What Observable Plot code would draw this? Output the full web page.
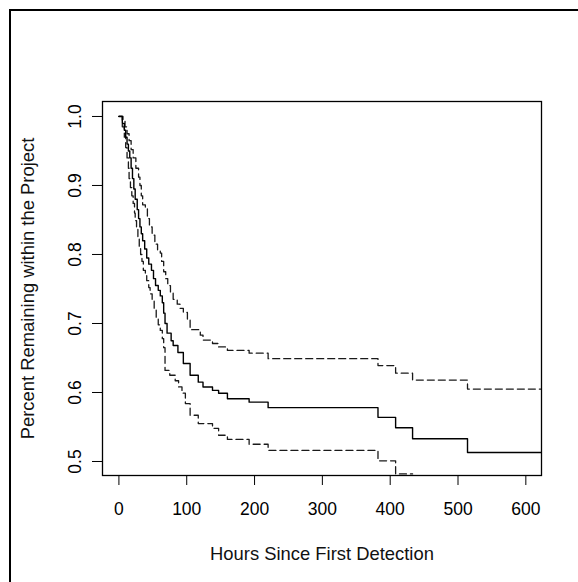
<!DOCTYPE html>
<html><head><meta charset="utf-8">
<script src="https://cdn.jsdelivr.net/npm/d3@7"></script>
<script src="https://cdn.jsdelivr.net/npm/@observablehq/plot@0.6"></script>
<style>
body{margin:0;background:#fff;}
#wrap{position:relative;width:578px;height:582px;overflow:hidden;background:#fff;}
#border{position:absolute;left:9px;top:9px;width:600px;height:600px;border-left:2px solid #000;border-top:2px solid #000;z-index:2;pointer-events:none;}
</style></head><body><div id="wrap"><div id="border"></div></div>
<script>
const xTicks = [0, 100, 200, 300, 400, 500, 600];
const yTicks = [0.5, 0.6, 0.7, 0.8, 0.9, 1.0];
const xLabel = "Hours Since First Detection";
const yLabel = "Percent Remaining within the Project";

const survTime = [0,5,8,10,12,14,16,18,20,22,24,27,29,31,33,35,38,41,44,48,51,54,58,61,64,66,68,71,77,80,87,95,105,117,124,138,147,160,192,220,382,408,433,514,623];
const survProb = [1.0,0.99,0.98,0.97,0.96,0.95,0.94,0.925,0.91,0.895,0.88,0.865,0.852,0.84,0.83,0.82,0.808,0.795,0.786,0.777,0.765,0.755,0.748,0.74,0.73,0.715,0.7,0.686,0.675,0.668,0.658,0.642,0.625,0.615,0.608,0.603,0.599,0.591,0.586,0.578,0.564,0.549,0.533,0.513,0.513];

const upperTime = [0,6,9,12,15,18,21,25,29,31,33,35,39,42,45,49,53,57,61,63,66,69,72,76,80,86,90,95,101,105,120,124,138,147,160,192,220,382,408,433,514,623];
const upperProb = [1.0,0.995,0.985,0.975,0.965,0.952,0.94,0.925,0.912,0.9,0.885,0.872,0.866,0.852,0.84,0.828,0.815,0.806,0.802,0.79,0.775,0.765,0.755,0.745,0.735,0.728,0.722,0.716,0.705,0.691,0.683,0.676,0.671,0.666,0.661,0.657,0.649,0.639,0.628,0.618,0.605,0.605];

const lowerTime = [0,5,8,10,12,14,15,17,19,21,23,24,26,28,30,32,34,36,39,41,44,46,49,52,55,58,61,64,66,68,75,83,88,93,98,105,117,138,147,160,192,220,382,408,433];
const lowerProb = [1.0,0.985,0.97,0.955,0.94,0.925,0.91,0.897,0.885,0.874,0.86,0.849,0.838,0.826,0.81,0.8,0.79,0.777,0.77,0.762,0.752,0.743,0.733,0.72,0.708,0.698,0.69,0.678,0.665,0.632,0.625,0.617,0.608,0.599,0.584,0.567,0.555,0.548,0.538,0.532,0.525,0.516,0.501,0.482,0.482];

const surv = survTime.map((t, i) => ({t, p: survProb[i]}));
const upper = upperTime.map((t, i) => ({t, p: upperProb[i]}));
const lower = lowerTime.map((t, i) => ({t, p: lowerProb[i]}));

const font = '"Liberation Sans", Arial, sans-serif';
const fs = 17.5;
const fsTitle = 18.4;

const chart = Plot.plot({
  width: 578,
  height: 582,
  marginLeft: 102,
  marginRight: 37,
  marginTop: 101,
  marginBottom: 107,
  style: {fontFamily: font, fontSize: fs + "px", background: "transparent", color: "#000"},
  x: {domain: [-24.2, 623.1]},
  y: {domain: [0.4797, 1.0217]},
  marks: [
    Plot.line(upper, {x: "t", y: "p", curve: "step-after", stroke: "#1a1a1a", strokeWidth: 1.3, strokeDasharray: "7,4", clip: true}),
    Plot.line(lower, {x: "t", y: "p", curve: "step-after", stroke: "#1a1a1a", strokeWidth: 1.3, strokeDasharray: "7,4", clip: true}),
    Plot.line(surv, {x: "t", y: "p", curve: "step-after", stroke: "#000", strokeWidth: 1.4, clip: true}),
    Plot.frame({stroke: "#000", strokeWidth: 1.3}),
    Plot.axisX({ticks: xTicks, tickSize: 10, tickPadding: 17, fontSize: fs, label: null, tickFormat: d => String(d)}),
    Plot.axisY({ticks: yTicks, tickSize: 10, tickPadding: 12, tickRotate: -90, fontSize: fs, label: null, tickFormat: d => d.toFixed(1)}),
    Plot.text([xLabel], {frameAnchor: "bottom", dy: 79, lineAnchor: "middle", textAnchor: "middle", fontSize: fsTitle, fill: "#111"}),
    Plot.text([yLabel], {frameAnchor: "left", dx: -74, rotate: -90, lineAnchor: "middle", textAnchor: "middle", fontSize: fsTitle, fill: "#111"})
  ]
});
document.getElementById("wrap").appendChild(chart);
</script>
</body></html>
